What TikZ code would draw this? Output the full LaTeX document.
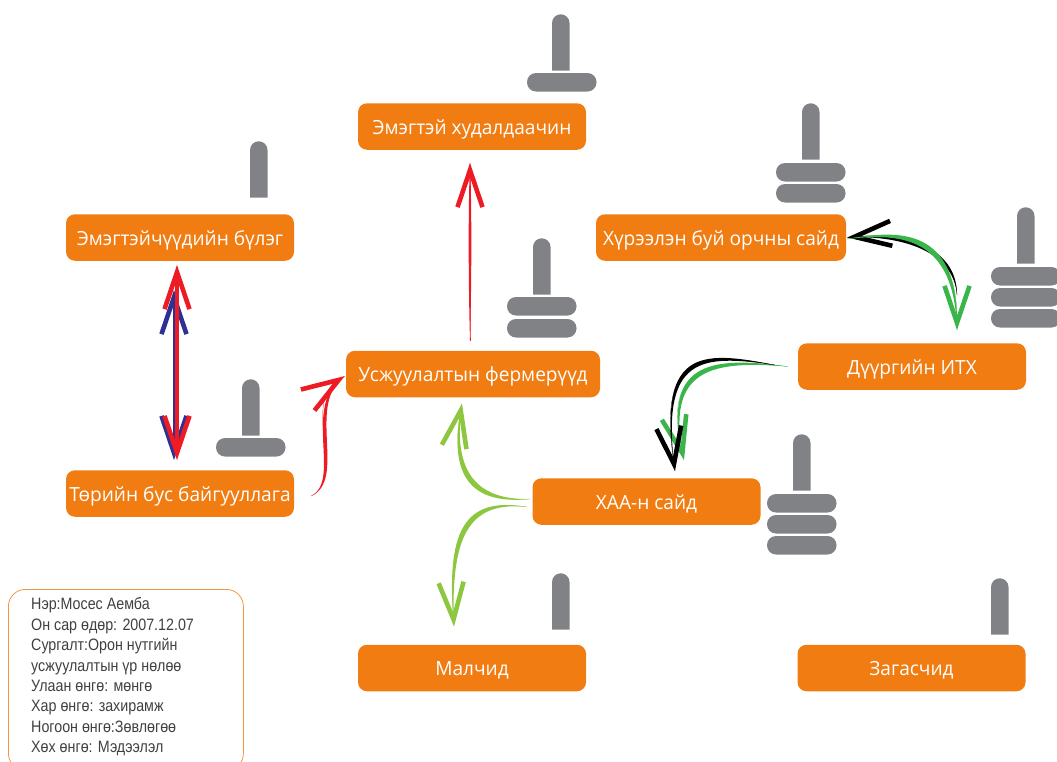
\documentclass[tikz,border=0pt]{standalone}
\usepackage{fontspec}
\setmainfont{Open Sans}
\newfontfamily\boxfont[FakeStretch=0.98]{Open Sans}
\newfontfamily\legendfont[FakeStretch=0.865]{Liberation Sans}
\usetikzlibrary{arrows.meta,calc}

\definecolor{boxorange}{HTML}{F07C12}
\definecolor{icongray}{HTML}{808285}
\definecolor{moneyred}{HTML}{ED1C24}
\definecolor{infoblue}{HTML}{2E3192}
\definecolor{adviceg}{HTML}{39B54A}
\definecolor{advicel}{HTML}{8DC63F}

\tikzset{
    actor/.style={fill=boxorange, rounded corners=9pt, minimum height=46.5pt, minimum width=228pt,
        inner sep=0pt, text=white, text height=15pt, text depth=0pt, font=\boxfont\fontsize{19.5}{22}\selectfont},
    stem/.style={fill=icongray},
    pill/.style={fill=icongray, rounded corners=9pt},
    legendbox/.style={draw=boxorange!80!white, line width=0.8pt, rounded corners=17pt},
    >={Straight Barb[length=37pt,width=25pt,line width=4.6pt]},
    barb/.style={->, line width=0.3pt}
}

% curved connector that swells along the way: colour, start, two controls, end, swell
\newcommand{\sweep}[6]{
    \draw[barb, #1] (#2) .. controls #3 and #4 .. (#5);
    \fill[#1] (#2) .. controls ($#3+0.5*#6$) and ($#4+0.5*#6$) .. (#5) .. controls ($#4-0.5*#6$) and ($#3-0.5*#6$) .. (#2);
}

\begin{document}
\begin{tikzpicture}[x=1pt, y=-1pt]

        \useasboundingbox (0,0) rectangle (1057,761);
        \clip (0,0) rectangle (1057,761);

        % Actors
        \node[actor] (trader) at (472,126.5) {Эмэгтэй худалдаачин};
        \node[actor] (women) at (180,237.5) {Эмэгтэйчүүдийн бүлэг};
        \node[actor, minimum width=250pt] (env) at (721,237.5) {Хүрээлэн буй орчны сайд};
        \node[actor] (district) at (912,366.5) {Дүүргийн ИТХ};
        \node[actor, minimum width=254pt] (farmers) at (473,374) {Усжуулалтын фермерүүд};
        \node[actor] (ngo) at (180,493.5) {Төрийн бус байгууллага};
        \node[actor] (minister) at (646.5,501.5) {ХАА-н сайд};
        \node[actor] (herder) at (472,668) {Малчид};
        \node[actor] (fisher) at (911.5,668) {Загасчид};

        % Icons: stems
        \foreach \x/\y in {552/14, 250/141, 802/103, 1017/207, 533/238, 242/379, 793/434, 552/573, 991/578} {
            \fill[stem] (\x,\y+56.5) -- (\x,\y+9) arc[start angle=180, end angle=360, radius=8.75] -- (\x+17.5,\y+56.5) -- cycle;
        }

        % Icons: pills
        \foreach \x/\y in {527/73, 776/163, 776/184, 991/267, 991/288, 991/309, 507/297, 507/319, 216/438, 767/494, 767/515, 767/536} {
            \fill[pill] (\x,\y) rectangle (\x+69.5,\y+18.5);
        }

        % Connector ends
        \coordinate (traderfoot) at ($(trader.south)+(-2,13)$);
        \coordinate (farmertop) at ($(farmers.north)+(-3,-10)$);
        \coordinate (womenfoot) at ($(women.south)+(-3,4)$);
        \coordinate (womenfootblue) at ($(women.south)+(-6,29)$);
        \coordinate (ngohead) at ($(ngo.north)+(-3,-10)$);
        \coordinate (ngoheadblue) at ($(ngo.north)+(-6,-10)$);
        \coordinate (ngoside) at ($(ngo.east)+(17,2.5)$);
        \coordinate (farmerside) at ($(farmers.west)+(-1,2)$);
        \coordinate (ministerup) at ($(minister.west)+(-2,-2.5)$);
        \coordinate (ministerdown) at ($(minister.west)+(-5,5.5)$);
        \coordinate (farmerfoot) at ($(farmers.south)+(-11,6)$);
        \coordinate (herderhead) at ($(herder.north)+(-18,-18)$);
        \coordinate (envside) at ($(env.east)+(1,0)$);
        \coordinate (envsidelow) at ($(env.east)+(1,1.5)$);
        \coordinate (districthead) at ($(district.north)+(45,-13)$);
        \coordinate (districtshoulder) at ($(district.north)+(45,-48)$);
        \coordinate (districtside) at ($(district.west)+(-23,-1.5)$);
        \coordinate (districtsidelow) at ($(district.west)+(-10,0)$);
        \coordinate (ministerhead) at ($(minister.north)+(28.5,-7)$);
        \coordinate (ministerheadgreen) at ($(minister.north)+(37.5,-18)$);

        % Money and information
        \sweep{moneyred}{farmertop}{(470,280)}{(470,200)}{traderfoot}{(3.5,0)}
        \draw[barb, infoblue, line width=3pt, <->] (womenfootblue) -- (ngoheadblue);
        \draw[barb, moneyred, line width=3.5pt, <->] (womenfoot) -- (ngohead);
        \sweep{moneyred}{ngoside}{(345,480)}{(303,403)}{farmerside}{(5,0)}

        % Advice
        \sweep{black}{districtshoulder}{(955,245)}{(895,233)}{envside}{(-4,4)}
        \sweep{advicel}{ministerup}{(470,503)}{(450,470)}{farmerfoot}{(-5,5)}
        \sweep{advicel}{ministerdown}{(465,498)}{(448,535)}{herderhead}{(5,5)}
        \sweep{adviceg}{envsidelow}{(905,230)}{(957,235)}{districthead}{(-5,5)}
        \sweep{adviceg}{districtsidelow}{(710,358)}{(662,365)}{ministerheadgreen}{(4,5)}

        % Orders
        \sweep{black}{districtside}{(700,352)}{(658,352)}{ministerhead}{(3,5)}

        % Legend
        \node[legendbox, minimum width=235pt, minimum height=181pt, anchor=north west] (legend) at (8,589) {};
        \node[anchor=north west, align=left, inner sep=0pt, text=black!75, font=\legendfont\fontsize{16.5}{20.4}\selectfont] (legendtext) at (31,597.5) {Нэр:Мосес Аемба\\Он сар өдөр: 2007.12.07\\Сургалт:Орон нутгийн\\усжуулалтын үр нөлөө\\Улаан өнгө: мөнгө\\Хар өнгө: захирамж\\Ногоон өнгө:Зөвлөгөө\\Хөх өнгө: Мэдээлэл};

    \end{tikzpicture}
\end{document}
